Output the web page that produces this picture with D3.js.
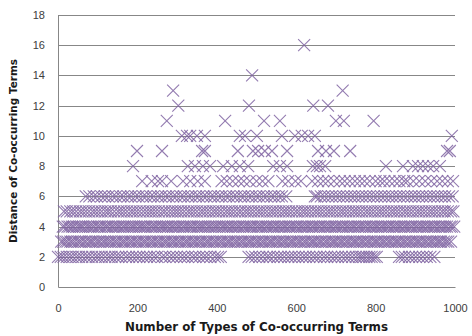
<!DOCTYPE html>
<html>
<head>
<meta charset="utf-8">
<script src="https://cdn.jsdelivr.net/npm/d3@7/dist/d3.min.js"></script>
<style>
  body { margin: 0; background: #fff; }
  svg { display: block; font-family: "DejaVu Sans", Verdana, sans-serif; }
</style>
</head>
<body>
<svg id="chart" width="472" height="336"></svg>
<script>
// x values (number of types) for each distance level
let d2 = [0, 7, 14, 22, 30, 37, 46, 53, 61, 70, 77, 86, 95, 102, 110, 119, 128, 135, 144, 152, 160, 171, 179, 188, 197, 205, 215, 224, 232, 242, 250, 262, 270, 281, 290, 299, 309, 318, 327, 338, 346, 356, 366, 374, 384, 395, 403, 410,
  480, 488, 497, 507, 516, 526, 533, 543, 553, 561, 570, 580, 588, 597, 606, 616, 624, 633, 643, 651, 660, 670, 678, 688, 697, 705, 715, 724, 732, 741, 750, 758, 764, 770, 777, 784, 790, 797, 803,
  859, 866, 874, 884, 892, 901, 910, 919, 929, 938, 948];
let d3v = [8, 13, 19, 24, 31, 36, 42, 49, 54, 59, 66, 71, 78, 83, 88, 95, 101, 106, 113, 118, 124, 130, 135, 142, 147, 153, 160, 165, 170, 177, 183, 188, 195, 200, 206, 213, 218, 223, 230, 236, 241, 248, 253, 259, 266, 271, 276, 283, 289, 294, 301, 306, 312, 319, 324, 329, 336, 342, 347, 354, 359, 365, 372, 377, 382, 389, 395, 400, 407, 412, 418, 425, 430, 435, 442, 448, 453, 460, 465, 471, 478, 483, 488, 495, 501, 506, 513, 518, 524, 531, 536, 541, 548, 554, 559, 566, 571, 577, 584, 589, 594, 601, 607, 612, 619, 624, 630, 637, 642, 647, 654, 660, 665, 672, 677, 683, 690, 695, 700, 707, 713, 718, 725, 730, 736, 743, 748, 753, 760, 766, 771, 778, 783, 789, 796, 801, 806, 813, 819, 824, 831, 836, 842, 849, 854, 859, 866, 872, 877, 884, 889, 895, 902, 907, 912, 919, 925, 930, 937, 942, 948, 955, 960, 965, 972, 978, 983, 990];
let d4 = [12, 17, 24, 29, 35, 40, 47, 53, 58, 63, 70, 76, 81, 87, 92, 99, 104, 110, 117, 122, 127, 134, 139, 145, 151, 156, 163, 168, 174, 180, 186, 191, 197, 204, 209, 215, 220, 226, 233, 238, 244, 249, 256, 262, 267, 273, 278, 285, 290, 296, 302, 307, 314, 319, 325, 331, 336, 342, 349, 354, 360, 365, 371, 378, 383, 389, 395, 400, 406, 413, 418, 424, 429, 436, 441, 447, 453, 458, 465, 470, 476, 482, 487, 493, 500, 505, 511, 516, 523, 528, 534, 540, 545, 552, 557, 563, 569, 574, 581, 586, 592, 598, 603, 610, 615, 621, 627, 632, 639, 644, 650, 656, 661, 668, 673, 679, 685, 690, 697, 702, 708, 714, 719, 726, 731, 737, 743, 748, 755, 760, 766, 772, 777, 784, 789, 795, 801, 806, 813, 818, 824, 830, 835, 842, 847, 853, 859, 864, 871, 876, 882, 888, 893, 900, 905, 911, 917, 922, 929, 934, 940, 946, 951, 958, 963, 969, 975, 980, 987, 992, 998];
let d5 = [15, 22, 31, 38, 46, 55, 62, 70, 78, 87, 94, 102, 110, 119, 126, 133, 142, 151, 158, 166, 174, 183, 190, 198, 206, 215, 223, 231, 238, 246, 254, 263, 270, 279, 287, 295, 302, 310, 318, 327, 334, 342, 350, 359, 366, 374, 382, 391, 398, 406, 414, 423, 430, 438, 446, 455, 462, 471, 478, 486, 494, 503, 510, 518, 526, 535, 542, 550, 558, 567, 574, 582, 590, 599, 606, 615, 622, 630, 638, 647, 654, 662, 670, 679, 686, 694, 702, 711, 718, 726, 734, 743, 750, 758, 766, 775, 782, 790, 798, 807, 814, 822, 830, 839, 846, 854, 862, 871, 878, 886, 894, 903, 910, 918, 926, 935, 942, 950, 958, 967, 974, 982, 990, 996];
let d6 = [70, 79, 90, 98, 109, 118, 127, 138, 146, 157, 165, 176, 184, 195, 203, 214, 222, 233, 241, 252, 260, 271, 279, 290, 298, 309, 317, 328, 336, 347, 355, 366, 374, 385, 393, 404, 412, 423, 431, 442, 450, 461, 469, 480, 488, 499, 507, 518, 526, 537, 545, 556, 564, 575,
  647, 652, 662, 671, 681, 690, 700, 709, 719, 728, 738, 747, 757, 766, 776, 785, 795, 804, 814, 823, 833, 842, 852, 861, 871, 880, 890, 899, 909, 918, 928, 937, 947, 956, 966, 975, 985, 994];
let d7 = [212, 236, 252, 262, 285, 315, 333, 352, 370, 412, 425, 440, 455, 468, 483, 500, 515, 530, 565, 580, 598, 612,
  640, 655, 668, 680, 695, 710, 722, 735, 748, 760, 772, 785, 800, 812, 822, 835, 848, 860, 872, 880, 895, 910, 925, 940, 955, 968, 982, 995];
let d8 = [189, 327, 345, 365, 383, 416, 438, 458, 479, 542, 559, 577, 642, 652, 660, 673, 826, 869, 894, 907, 919, 932, 945, 962];
let d9 = [199, 262, 363, 370, 453, 491, 504, 521, 539, 577, 655, 675, 695, 736, 980, 987];
let d10 = [312, 325, 333, 350, 370, 458, 471, 501, 564, 597, 614, 630, 647, 992];
let d11 = [274, 421, 519, 559, 700, 720, 795];
let d12 = [303, 481, 643, 680];
let d13 = [290, 717];
let d14 = [489];
let d16 = [620];

let levels = [2, 3, 4, 5, 6, 7, 8, 9, 10, 11, 12, 13, 14, 16];
let xsByLevel = [d2, d3v, d4, d5, d6, d7, d8, d9, d10, d11, d12, d13, d14, d16];

let xTicks = [0, 200, 400, 600, 800, 1000];
let yTicks = [0, 2, 4, 6, 8, 10, 12, 14, 16, 18];
let xTitle = 'Number of Types of Co-occurring Terms';
let yTitle = 'Distance of Co-occurring Terms';

let margin = { top: 15, right: 17, bottom: 49, left: 58 };
let width = 472 - margin.left - margin.right;
let height = 336 - margin.top - margin.bottom;

let points = [];
levels.forEach((lv, i) => {
    xsByLevel[i].forEach(x => points.push({ x: x, y: lv }));
});

let svg = d3.select('#chart');
let g = svg.append('g')
    .attr('transform', `translate(${margin.left}, ${margin.top})`);

let xScale = d3.scaleLinear().domain([0, 1000]).range([0, width]);
let yScale = d3.scaleLinear().domain([0, 18]).range([height, 0]);

// horizontal gridlines
g.append('g')
    .selectAll('line')
    .data(yTicks.filter(t => t > 0))
    .enter().append('line')
    .attr('x1', 0).attr('x2', width)
    .attr('y1', d => Math.round(yScale(d)) + 0.5)
    .attr('y2', d => Math.round(yScale(d)) + 0.5)
    .attr('stroke', '#878787')
    .attr('stroke-width', 1);

// y axis
let yAxis = d3.axisLeft(yScale).tickValues(yTicks).tickSize(0).tickPadding(13).tickFormat(d3.format('d'));
let yg = g.append('g').call(yAxis);
yg.select('.domain').attr('stroke', '#878787');
yg.selectAll('text').attr('font-size', 11).attr('fill', '#404040');

// x axis
let xAxis = d3.axisBottom(xScale).tickValues(xTicks).tickSize(0).tickPadding(17).tickFormat(d3.format('d'));
let xg = g.append('g').attr('transform', `translate(0, ${height})`).call(xAxis);
xg.select('.domain').attr('stroke', '#878787');
xg.selectAll('text').attr('font-size', 11).attr('fill', '#404040');

// markers
g.append('g')
    .selectAll('path')
    .data(points)
    .enter().append('path')
    .attr('d', 'M-6,-6L6,6M-6,6L6,-6')
    .attr('transform', d => `translate(${xScale(d.x)}, ${yScale(d.y)})`)
    .attr('fill', 'none')
    .attr('stroke', '#8064a2')
    .attr('stroke-opacity', 0.85)
    .attr('stroke-width', 1.1);

// axis titles
svg.append('text')
    .attr('x', margin.left + width / 2)
    .attr('y', 331)
    .attr('text-anchor', 'middle')
    .attr('font-size', 11.7)
    .attr('font-weight', 'bold')
    .attr('fill', '#1a1a1a')
    .attr('textLength', 263)
    .attr('lengthAdjust', 'spacingAndGlyphs')
    .text(xTitle);

svg.append('text')
    .attr('transform', `translate(17, ${margin.top + height / 2}) rotate(-90)`)
    .attr('text-anchor', 'middle')
    .attr('font-size', 10.5)
    .attr('font-weight', 'bold')
    .attr('fill', '#1a1a1a')
    .attr('textLength', 184)
    .attr('lengthAdjust', 'spacingAndGlyphs')
    .text(yTitle);
</script>
</body>
</html>
